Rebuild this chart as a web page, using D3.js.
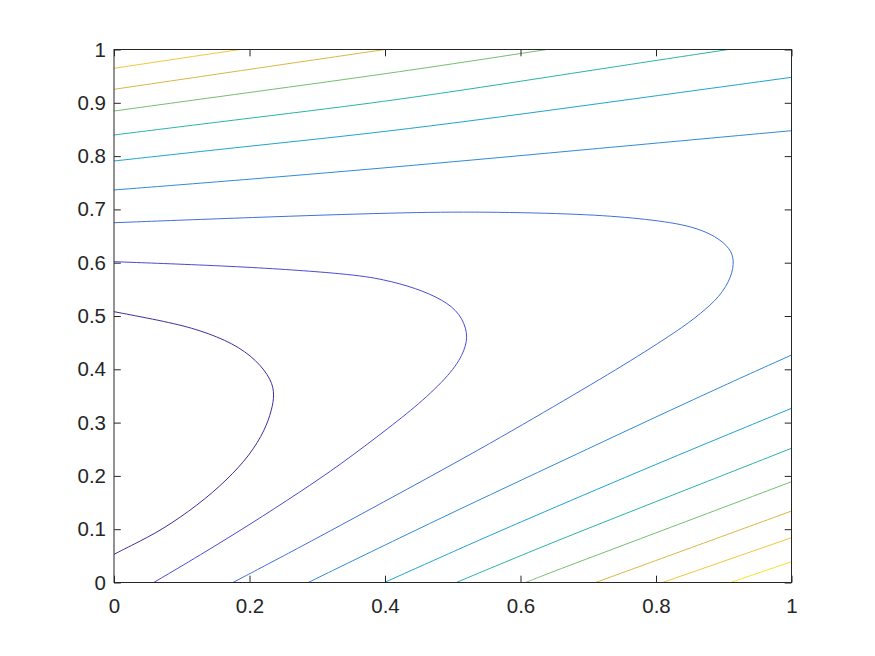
<!DOCTYPE html>
<html>
<head>
<meta charset="utf-8">
<script src="https://cdn.jsdelivr.net/npm/d3@7"></script>
<style>
  html, body { margin: 0; padding: 0; background: #ffffff; }
  svg { display: block; }
</style>
</head>
<body>
<svg id="chart" width="875" height="656"></svg>
<script>
// ---------- data ----------
const xTicks = [0, 0.2, 0.4, 0.6, 0.8, 1];
const xTickLabels = ["0", "0.2", "0.4", "0.6", "0.8", "1"];
const yTicks = [0, 0.1, 0.2, 0.3, 0.4, 0.5, 0.6, 0.7, 0.8, 0.9, 1];
const yTickLabels = ["0", "0.1", "0.2", "0.3", "0.4", "0.5", "0.6", "0.7", "0.8", "0.9", "1"];

// contour level index (1 = lowest .. 10 = highest)
const levels = [1, 2, 3, 4, 5, 6, 7, 8, 9, 10];

// contour lines as [x, y] points
const level1 = [[0,0.5081],[0.0778,0.4893],[0.1269,0.4737],[0.1761,0.4488],[0.2106,0.4174],[0.2328,0.3799],[0.2369,0.3518],[0.2328,0.3236],[0.2229,0.2861],[0.2007,0.2392],[0.1668,0.1923],[0.1240,0.1454],[0.0708,0.0985],[0.0272,0.0704],[0,0.0529]];
const level2 = [[0,0.6019],[0.2007,0.5925],[0.3483,0.5788],[0.3975,0.5689],[0.4468,0.5520],[0.4861,0.5300],[0.5107,0.5051],[0.5229,0.4675],[0.5181,0.4362],[0.5008,0.3968],[0.4565,0.3415],[0.4074,0.2917],[0.3336,0.2205],[0.2745,0.1698],[0.2007,0.1088],[0.1269,0.0512],[0.0587,0]];
const level3 = [[0,0.6750],[0.2007,0.6848],[0.4221,0.6942],[0.5451,0.6957],[0.6927,0.6914],[0.7764,0.6833],[0.8502,0.6707],[0.8896,0.6488],[0.9092,0.6270],[0.9156,0.6051],[0.9117,0.5737],[0.8945,0.5362],[0.8649,0.5038],[0.8403,0.4794],[0.7665,0.4184],[0.6682,0.3443],[0.5402,0.2495],[0.3926,0.1473],[0.2745,0.0660],[0.1755,0]];
const level4Top = [[0,0.7364],[0.2007,0.7565],[0.4221,0.7801],[0.7173,0.8146],[1,0.8477]];
const level4Bottom = [[0.2866,0],[0.4664,0.1116],[0.6435,0.2173],[0.8550,0.3437],[1,0.4268]];
const level5Top = [[0,0.7908],[0.2007,0.8189],[0.4221,0.8480],[0.7173,0.8987],[1,0.9478]];
const level5Bottom = [[0.3991,0],[0.5255,0.0722],[0.6435,0.1373],[0.8207,0.2330],[1,0.3268]];
const level6Top = [[0,0.8396],[0.2007,0.8713],[0.4221,0.9053],[0.6583,0.9520],[0.9067,1]];
const level6Bottom = [[0.5051,0],[0.6435,0.0735],[0.8207,0.1621],[1,0.2518]];
const level7Top = [[0,0.8846],[0.2007,0.9195],[0.4221,0.9578],[0.6387,1]];
const level7Bottom = [[0.6075,0],[0.6435,0.0184],[0.8207,0.1030],[1,0.1891]];
const level8Top = [[0,0.9253],[0.2007,0.9629],[0.4000,1]];
const level8Bottom = [[0.7107,0],[0.8502,0.0645],[1,0.1341]];
const level9Top = [[0,0.9647],[0.0930,0.9825],[0.1860,1]];
const level9Bottom = [[0.8096,0],[1,0.0841]];
const level10Bottom = [[0.9100,0],[1,0.0390]];

const segments = [
  {level: 1, points: level1},
  {level: 2, points: level2},
  {level: 3, points: level3},
  {level: 4, points: level4Top},
  {level: 4, points: level4Bottom},
  {level: 5, points: level5Top},
  {level: 5, points: level5Bottom},
  {level: 6, points: level6Top},
  {level: 6, points: level6Bottom},
  {level: 7, points: level7Top},
  {level: 7, points: level7Bottom},
  {level: 8, points: level8Top},
  {level: 8, points: level8Bottom},
  {level: 9, points: level9Top},
  {level: 9, points: level9Bottom},
  {level: 10, points: level10Bottom}
];

// ---------- styles ----------
const palette = ['#3c2f9c','#4a4bd2','#416fdc','#2f8bd8','#1ea4cf','#2bb3a8','#74bf6c','#d8b743','#f2c63b','#f3e530'];
const axisColor = '#262626';
const fontFamily = '"Liberation Sans", Arial, Helvetica, sans-serif';

// ---------- layout ----------
const W = 875, H = 656;
const plotLeft = 114, plotRight = 791.5, plotTop = 49.5, plotBottom = 582.5;
const tickLen = 6.8;

const svg = d3.select('#chart');
svg.append('rect').attr('width', W).attr('height', H).attr('fill', '#ffffff');

const x = d3.scaleLinear().domain([0, 1]).range([plotLeft, plotRight]);
const y = d3.scaleLinear().domain([0, 1]).range([plotBottom, plotTop]);

const color = d3.scaleOrdinal().domain(levels).range(palette);

// contour lines
const line = d3.line()
  .x(d => x(d[0]))
  .y(d => y(d[1]))
  .curve(d3.curveBasis);

svg.append('clipPath').attr('id', 'plotclip')
  .append('rect')
  .attr('x', plotLeft).attr('y', plotTop)
  .attr('width', plotRight - plotLeft).attr('height', plotBottom - plotTop);

svg.append('g')
  .attr('clip-path', 'url(#plotclip)')
  .selectAll('path')
  .data(segments)
  .join('path')
  .attr('d', d => line(d.points))
  .attr('fill', 'none')
  .attr('stroke', d => color(d.level))
  .attr('stroke-width', 1);

// axes
function styleAxis(g) {
  g.selectAll('.domain').remove();
  g.selectAll('.tick line').attr('stroke', axisColor).attr('stroke-width', 1);
  g.selectAll('.tick text')
    .attr('fill', axisColor)
    .style('font-family', fontFamily)
    .style('font-size', '20.5px');
}

svg.append('g')
  .attr('transform', `translate(0,${plotBottom})`)
  .call(d3.axisBottom(x).tickValues(xTicks)
    .tickFormat((d, i) => xTickLabels[i])
    .tickSizeInner(-tickLen).tickSizeOuter(0).tickPadding(16))
  .call(styleAxis);

svg.append('g')
  .attr('transform', `translate(0,${plotTop})`)
  .call(d3.axisTop(x).tickValues(xTicks).tickFormat('')
    .tickSizeInner(-tickLen).tickSizeOuter(0))
  .call(styleAxis);

svg.append('g')
  .attr('transform', `translate(${plotLeft},0)`)
  .call(d3.axisLeft(y).tickValues(yTicks)
    .tickFormat((d, i) => yTickLabels[i])
    .tickSizeInner(-tickLen).tickSizeOuter(0).tickPadding(8))
  .call(styleAxis);

svg.append('g')
  .attr('transform', `translate(${plotRight},0)`)
  .call(d3.axisRight(y).tickValues(yTicks).tickFormat('')
    .tickSizeInner(-tickLen).tickSizeOuter(0))
  .call(styleAxis);

// box
svg.append('rect')
  .attr('x', plotLeft).attr('y', plotTop)
  .attr('width', plotRight - plotLeft).attr('height', plotBottom - plotTop)
  .attr('fill', 'none')
  .attr('stroke', axisColor)
  .attr('stroke-width', 1);
</script>
</body>
</html>
